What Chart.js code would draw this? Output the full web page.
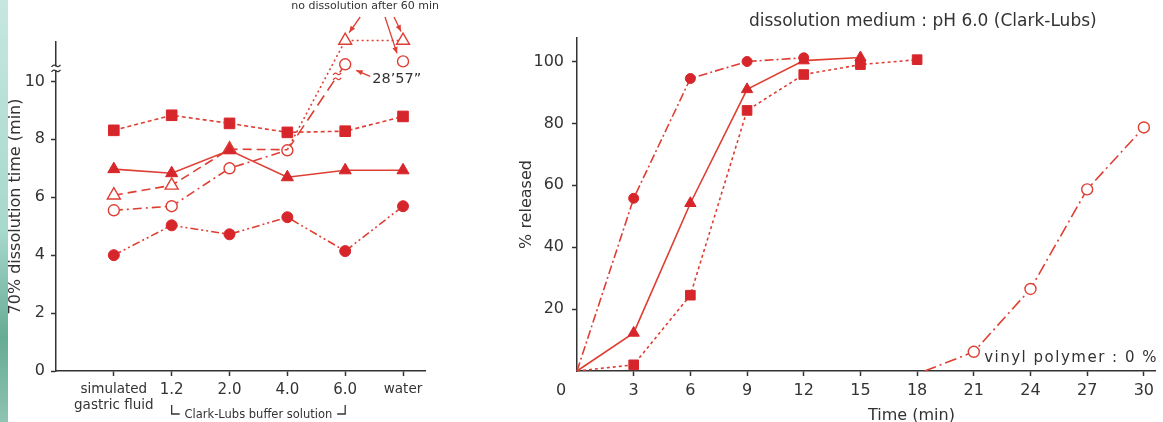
<!DOCTYPE html>
<html>
<head>
<meta charset="utf-8">
<title>Dissolution time and release profiles</title>
<script src="https://cdn.jsdelivr.net/npm/chart.js"></script>
<style>
  body { margin: 0; width: 1163px; height: 422px; overflow: hidden; background: #fff; position: relative; }
  #strip { position: absolute; left: 0; top: 0; width: 8px; height: 422px;
           background: linear-gradient(#c6e7e0, #a6d8cb 55%, #66ab94 80%, #8ec4b2); }
  #left { position: absolute; left: 0; top: 0; }
  #right { position: absolute; left: 480px; top: 0; }
</style>
</head>
<body>
<div id="strip"></div>
<canvas id="left" width="460" height="422"></canvas>
<canvas id="right" width="683" height="422"></canvas>
<script>
// left panel: 70% dissolution time (min) per medium
const media = [['simulated', 'gastric fluid'], '1.2', '2.0', '4.0', '6.0', 'water'];
const mediaIdx = [0, 1, 2, 3, 4, 5];
const timeTicks = [0, 2, 4, 6, 8, 10];
const sqTime = [8.31, 8.83, 8.55, 8.24, 8.28, 8.79];
const triTime = [6.97, 6.83, 7.62, 6.69, 6.93, 6.93];
const openTriTime = [6.07, 6.41, 7.66, 7.64, 11.41, 11.41];   // 6.0 / water: no dissolution after 60 min
const openCircTime = [5.55, 5.69, 7.0, 7.62, 10.59, 10.69];   // 6.0: 28'57"
const dotTime = [4.0, 5.03, 4.72, 5.31, 4.14, 5.69];

// right panel: % released vs time, pH 6.0
const minutes = [0, 3, 6, 9, 12, 15, 18];
const dotRel = [0, 55.8, 94.5, 100, 101.2];
const triRel = [0, 12.3, 54.2, 91.0, 100.3, 101.3];
const sqRel = [0, 2.0, 24.5, 84.2, 95.8, 99.0, 100.6];
const vinylMin = [18.4, 21, 24, 27, 30];
const vinylRel = [0, 6.2, 26.5, 58.7, 78.7];
const relTicks = [20, 40, 60, 80, 100];
const minTicks = [3, 6, 9, 12, 15, 18, 21, 24, 27, 30];

const FONT = '"DejaVu Sans", sans-serif';
const INK = '#333';
const RED = '#d7262b';
const LINE = '#df3e33';

Chart.defaults.font.family = FONT;
Chart.defaults.color = INK;

const pts = (xs, ys) => ys.map((y, i) => ({ x: xs[i], y: y }));

function series(data, style) {
  return Object.assign({
    data: data, borderColor: LINE, borderWidth: 1.6, tension: 0, clip: false,
    pointBackgroundColor: RED, pointBorderColor: RED, pointBorderWidth: 1
  }, style);
}

function axis(extra) {
  return Object.assign({
    type: 'linear',
    grid: { drawOnChartArea: false, tickLength: 5, tickColor: INK, tickWidth: 1.5 },
    border: { color: INK, width: 1.5 }
  }, extra);
}

function arrow(ctx, x1, y1, x2, y2) {
  const a = Math.atan2(y2 - y1, x2 - x1);
  ctx.beginPath(); ctx.moveTo(x1, y1); ctx.lineTo(x2, y2); ctx.stroke();
  ctx.beginPath();
  ctx.moveTo(x2, y2);
  ctx.lineTo(x2 - 7 * Math.cos(a - 0.4), y2 - 7 * Math.sin(a - 0.4));
  ctx.lineTo(x2 - 7 * Math.cos(a + 0.4), y2 - 7 * Math.sin(a + 0.4));
  ctx.closePath(); ctx.fill();
}

function wave(ctx, x, y, w, color) {
  ctx.strokeStyle = color;
  for (const dy of [-2.5, 2.5]) {
    ctx.beginPath();
    ctx.moveTo(x - w / 2, y + dy + 1);
    ctx.quadraticCurveTo(x - w / 4, y + dy - 2, x, y + dy);
    ctx.quadraticCurveTo(x + w / 4, y + dy + 2, x + w / 2, y + dy - 1);
    ctx.stroke();
  }
}

const leftNotes = {
  id: 'leftNotes',
  afterDraw(chart) {
    const { ctx, scales: { x, y } } = chart;
    const X = v => x.getPixelForValue(v), Y = v => y.getPixelForValue(v);
    ctx.save();
    ctx.lineWidth = 1.3;

    // axis break
    const ax = chart.chartArea.left, ay = Y(10.45);
    ctx.fillStyle = '#fff';
    ctx.fillRect(ax - 2, ay - 2, 4, 4);
    wave(ctx, ax, ay, 9, INK);

    // break on the open-circle line
    const bx = X(3) + (X(4) - X(3)) * 0.86, by = Y(7.62) + (Y(10.59) - Y(7.62)) * 0.86;
    ctx.fillRect(bx - 5, by - 4, 10, 8);
    wave(ctx, bx, by, 8, LINE);

    ctx.fillStyle = INK;
    ctx.font = '11px ' + FONT;
    ctx.textAlign = 'center'; ctx.textBaseline = 'middle';
    ctx.fillText('no dissolution after 60 min', X(4) + 20, 6);
    ctx.font = '14.5px ' + FONT;
    ctx.textAlign = 'left';
    ctx.fillText('28\u201957\u201d', X(4) + 27, Y(10.59) + 15);

    ctx.strokeStyle = LINE; ctx.fillStyle = LINE;
    arrow(ctx, X(4) + 15, 17, X(4) + 4, Y(11.41) - 8);
    arrow(ctx, X(5) - 18, 17, X(5) - 6, Y(10.69) - 8);
    arrow(ctx, X(5) - 9, 17, X(5) - 2, Y(11.41) - 9);
    arrow(ctx, X(4) + 25, Y(10.59) + 12, X(4) + 11, Y(10.59) + 6);

    // buffer bracket
    const bb = 405, bl = X(1), br = X(4);
    ctx.strokeStyle = INK; ctx.lineWidth = 1.3;
    ctx.beginPath();
    ctx.moveTo(bl, bb); ctx.lineTo(bl, bb + 9); ctx.lineTo(bl + 8, bb + 9);
    ctx.moveTo(br - 8, bb + 9); ctx.lineTo(br, bb + 9); ctx.lineTo(br, bb);
    ctx.stroke();
    ctx.fillStyle = INK;
    ctx.font = '11.5px ' + FONT;
    ctx.textAlign = 'center';
    ctx.fillText('Clark-Lubs buffer solution', (bl + br) / 2, bb + 10);
    ctx.restore();
  }
};

const rightNotes = {
  id: 'rightNotes',
  afterDraw(chart) {
    const { ctx, scales: { x, y } } = chart;
    const X = v => x.getPixelForValue(v), Y = v => y.getPixelForValue(v);
    ctx.save();
    ctx.fillStyle = INK;
    ctx.textBaseline = 'middle';
    ctx.textAlign = 'center';
    ctx.font = '17px ' + FONT;
    ctx.fillText('dissolution medium : pH 6.0 (Clark-Lubs)', X(18.3), 22);
    ctx.font = '16px ' + FONT;
    ctx.fillText('0', X(0) - 16, Y(0) + 20);
    ctx.textAlign = 'left';
    ctx.fillText('Time (min)', X(15.4), 416);
    ctx.font = '15px ' + FONT;
    ctx.letterSpacing = '1.5px';
    ctx.fillText('vinyl polymer : 0 %', X(21.55), Y(4.3));
    ctx.restore();
  }
};

new Chart(document.getElementById('left'), {
  type: 'line',
  data: {
    datasets: [
      series(pts(mediaIdx, sqTime), { pointStyle: 'rect', pointRadius: 7.5, borderDash: [4, 3] }),
      series(pts(mediaIdx, triTime), { pointStyle: 'triangle', pointRadius: 7 }),
      series(pts(mediaIdx, openTriTime), {
        pointStyle: 'triangle', pointRadius: [7.5, 7.5, 7.5, 0, 7.5, 7.5],
        pointBackgroundColor: '#fff', pointBorderColor: LINE, pointBorderWidth: 1.4,
        segment: { borderDash: c => c.p0DataIndex >= 3 ? [2, 3] : [9, 5] }
      }),
      series(pts(mediaIdx, openCircTime), {
        pointStyle: 'circle', pointRadius: 5.5,
        pointBackgroundColor: '#fff', pointBorderColor: LINE, pointBorderWidth: 1.4,
        segment: {
          borderDash: c => c.p0DataIndex === 3 ? [12, 6] : [9, 4, 2, 4],
          borderColor: c => c.p0DataIndex === 4 ? 'rgba(0,0,0,0)' : LINE
        }
      }),
      series(pts(mediaIdx, dotTime), { pointStyle: 'circle', pointRadius: 5.5, borderDash: [8, 3, 2, 3, 2, 3] })
    ]
  },
  options: {
    responsive: false,
    animation: false,
    events: [],
    layout: { padding: { left: 6, top: 42, right: 35, bottom: 0 } },
    plugins: { legend: { display: false }, tooltip: { enabled: false } },
    scales: {
      x: axis({
        min: -1, max: 5.38,
        afterBuildTicks: s => { s.ticks = mediaIdx.map(v => ({ value: v })); },
        afterFit: s => { s.height = 51; },
        ticks: {
          callback: v => media[v], color: INK, padding: 5, maxRotation: 0, autoSkip: false,
          font: c => ({ family: FONT, size: (c.tick && (c.tick.value === 0 || c.tick.value === 5)) ? 13.5 : 15 })
        }
      }),
      y: axis({
        min: 0, max: 11.36,
        afterBuildTicks: s => { s.ticks = timeTicks.map(v => ({ value: v })); },
        afterFit: s => { s.width = 50; },
        ticks: { color: INK, font: { family: FONT, size: 16 }, padding: 6 },
        title: { display: true, text: '70% dissolution time (min)', color: INK, font: { family: FONT, size: 16 }, padding: 0 }
      })
    }
  },
  plugins: [leftNotes]
});

new Chart(document.getElementById('right'), {
  type: 'line',
  data: {
    datasets: [
      series(pts(minutes, dotRel), { pointStyle: 'circle', pointRadius: [0, 5, 5, 5, 5], borderDash: [9, 3, 2, 3] }),
      series(pts(minutes, triRel), { pointStyle: 'triangle', pointRadius: [0, 6.5, 6.5, 6.5, 6.5, 6.5] }),
      series(pts(minutes, sqRel), { pointStyle: 'rect', pointRadius: [0, 6.8, 6.8, 6.8, 6.8, 6.8, 6.8], borderDash: [3, 3] }),
      series(pts(vinylMin, vinylRel), {
        pointStyle: 'circle', pointRadius: [0, 5.5, 5.5, 5.5, 5.5],
        pointBackgroundColor: '#fff', pointBorderColor: LINE, pointBorderWidth: 1.4,
        borderDash: [12, 4, 2, 4]
      })
    ]
  },
  options: {
    responsive: false,
    animation: false,
    events: [],
    layout: { padding: { left: 37, top: 38, right: 3, bottom: 0 } },
    plugins: { legend: { display: false }, tooltip: { enabled: false } },
    scales: {
      x: axis({
        min: 0, max: 30.6,
        afterBuildTicks: s => { s.ticks = minTicks.map(v => ({ value: v })); },
        afterFit: s => { s.height = 51; },
        ticks: { color: INK, font: { family: FONT, size: 16 }, padding: 5, maxRotation: 0, autoSkip: false }
      }),
      y: axis({
        min: 0, max: 107.6,
        afterBuildTicks: s => { s.ticks = relTicks.map(v => ({ value: v })); },
        afterFit: s => { s.width = 60; },
        ticks: { color: INK, font: { family: FONT, size: 16 }, padding: 8 },
        title: { display: true, text: '% released', color: INK, font: { family: FONT, size: 16 }, padding: 0 }
      })
    }
  },
  plugins: [rightNotes]
});
</script>
</body>
</html>
